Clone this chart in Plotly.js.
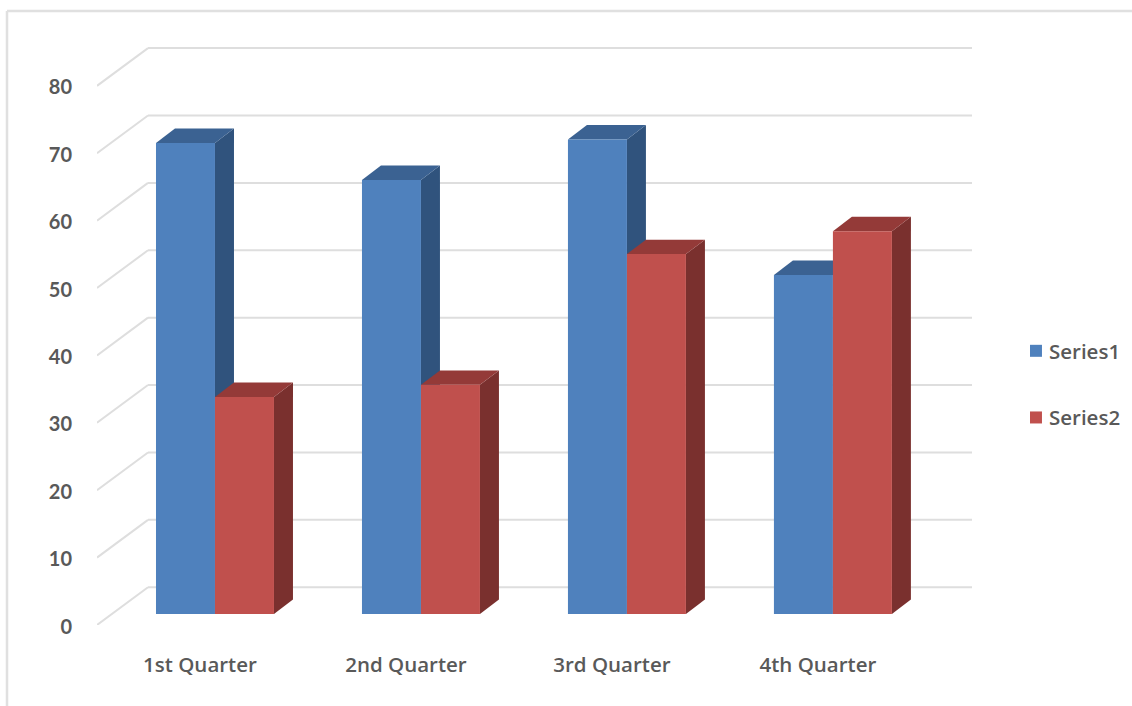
<!DOCTYPE html>
<html><head><meta charset="utf-8">
<script src="https://cdn.plot.ly/plotly-3.0.1.min.js"></script>
<style>html,body{margin:0;padding:0;background:#fff;overflow:hidden}</style>
</head><body><div id="chart" style="width:1132px;height:706px"></div>
<script>
const categories = ['1st Quarter','2nd Quarter','3rd Quarter','4th Quarter'];
const series1 = [69.9, 64.4, 70.4, 50.3];
const series2 = [32.2, 34.0, 53.4, 56.8];
const yTicks = [0,10,20,30,40,50,60,70,80];

// pseudo-3D geometry in axis units
const xMin = -0.5, xMax = 3.748, yMax = 86.8;
const wallDx = 0.2476, wallDy = 5.6;    // floor depth
const barDx = 0.0922, barDy = 2.15;     // depth of a bar
const barBase = 1.63;                   // front of bars sits this far up the floor
const barLeft = -0.2136, barW = 0.2864; // relative to category centre

const tickX = categories.map((_, i) => i);
const shapes = [];
function poly(pts, fill) {
  const path = pts.map((p, i) => (i ? 'L' : 'M') + p[0] + ',' + p[1]).join(' ') + ' Z';
  shapes.push({type:'path', path, xref:'x', yref:'y', layer:'below', fillcolor:fill, line:{width:0}});
}
function seg(x0, y0, x1, y1) {
  shapes.push({type:'line', xref:'x', yref:'y', layer:'below', x0, y0, x1, y1, line:{color:'#DEDEDE', width:2}});
}
yTicks.forEach(v => {
  seg(xMin, v, xMin + wallDx, v + wallDy);
  seg(xMin + wallDx, v + wallDy, xMax, v + wallDy);
});
function depth(vals, slot, side, top) {
  vals.forEach((v, i) => {
    const l = i + barLeft + slot * barW, r = l + barW, t = v + barBase;
    poly([[r,barBase],[r+barDx,barBase+barDy],[r+barDx,t+barDy],[r,t]], side);
    poly([[l,t],[l+barDx,t+barDy],[r+barDx,t+barDy],[r,t]], top);
  });
}
depth(series1, 0, '#30537D', '#3B6292');
depth(series2, 1, '#7A302E', '#943A38');
// page frame
shapes.push({type:'line', xref:'paper', yref:'paper', x0:-90/875, x1:1.2, y0:(625-11)/585, y1:(625-11)/585, line:{color:'#E0E0E0',width:2.5}});
shapes.push({type:'line', xref:'paper', yref:'paper', x0:-90/875, x1:-90/875, y0:(625-11)/585, y1:-0.15, line:{color:'#E0E0E0',width:2.5}});

function bar(name, vals, slot, color) {
  return {type:'bar', name, x:tickX, y:vals, base:barBase, width:barW,
    offset:barLeft + slot*barW, marker:{color, line:{width:0}}, legendgroup:name, cliponaxis:false,
    hovertemplate:'%{text}: %{y}<extra>'+name+'</extra>', text:categories, textposition:'none'};
}
const yFont = {family:'Lato, sans-serif', size:20, color:'#595959', weight:700};
const xFont = {family:'"Open Sans", sans-serif', size:20.5, color:'#595959', weight:600};
const legendFont = {family:'"Open Sans", sans-serif', size:20.5, color:'#595959', weight:600};
Plotly.newPlot('chart', [bar('Series1', series1, 0, '#4F81BD'), bar('Series2', series2, 1, '#C0504D')], {
  width:1132, height:706, margin:{l:97,r:160,t:40,b:81},
  paper_bgcolor:'#fff', plot_bgcolor:'rgba(0,0,0,0)', showlegend:true, shapes,
  barmode:'overlay', font:yFont,
  xaxis:{range:[xMin,xMax], tickvals:tickX, ticktext:categories, showgrid:false, zeroline:false, showline:false,
    ticks:'', ticklabelstandoff:25, tickfont:xFont},
  yaxis:{range:[0,yMax], tickvals:yTicks, showgrid:false, zeroline:false, showline:false,
    ticks:'', ticklabelstandoff:24, tickfont:yFont},
  legend:{xref:'container', yref:'container', x:0.8975, xanchor:'left', y:0.4554, yanchor:'middle',
    traceorder:'grouped', tracegroupgap:37, font:legendFont, bgcolor:'rgba(0,0,0,0)'}
}, {displayModeBar:false}).then(gd => {
  // the source's legend text sits closer to its swatch; its value labels sit slightly lower
  gd.querySelectorAll('.legendtext').forEach(t => t.setAttribute('x', +t.getAttribute('x') - 7));
  gd.querySelectorAll('.ytick text').forEach(t => t.setAttribute('y', +t.getAttribute('y') + 1.5));
});
</script></body></html>
